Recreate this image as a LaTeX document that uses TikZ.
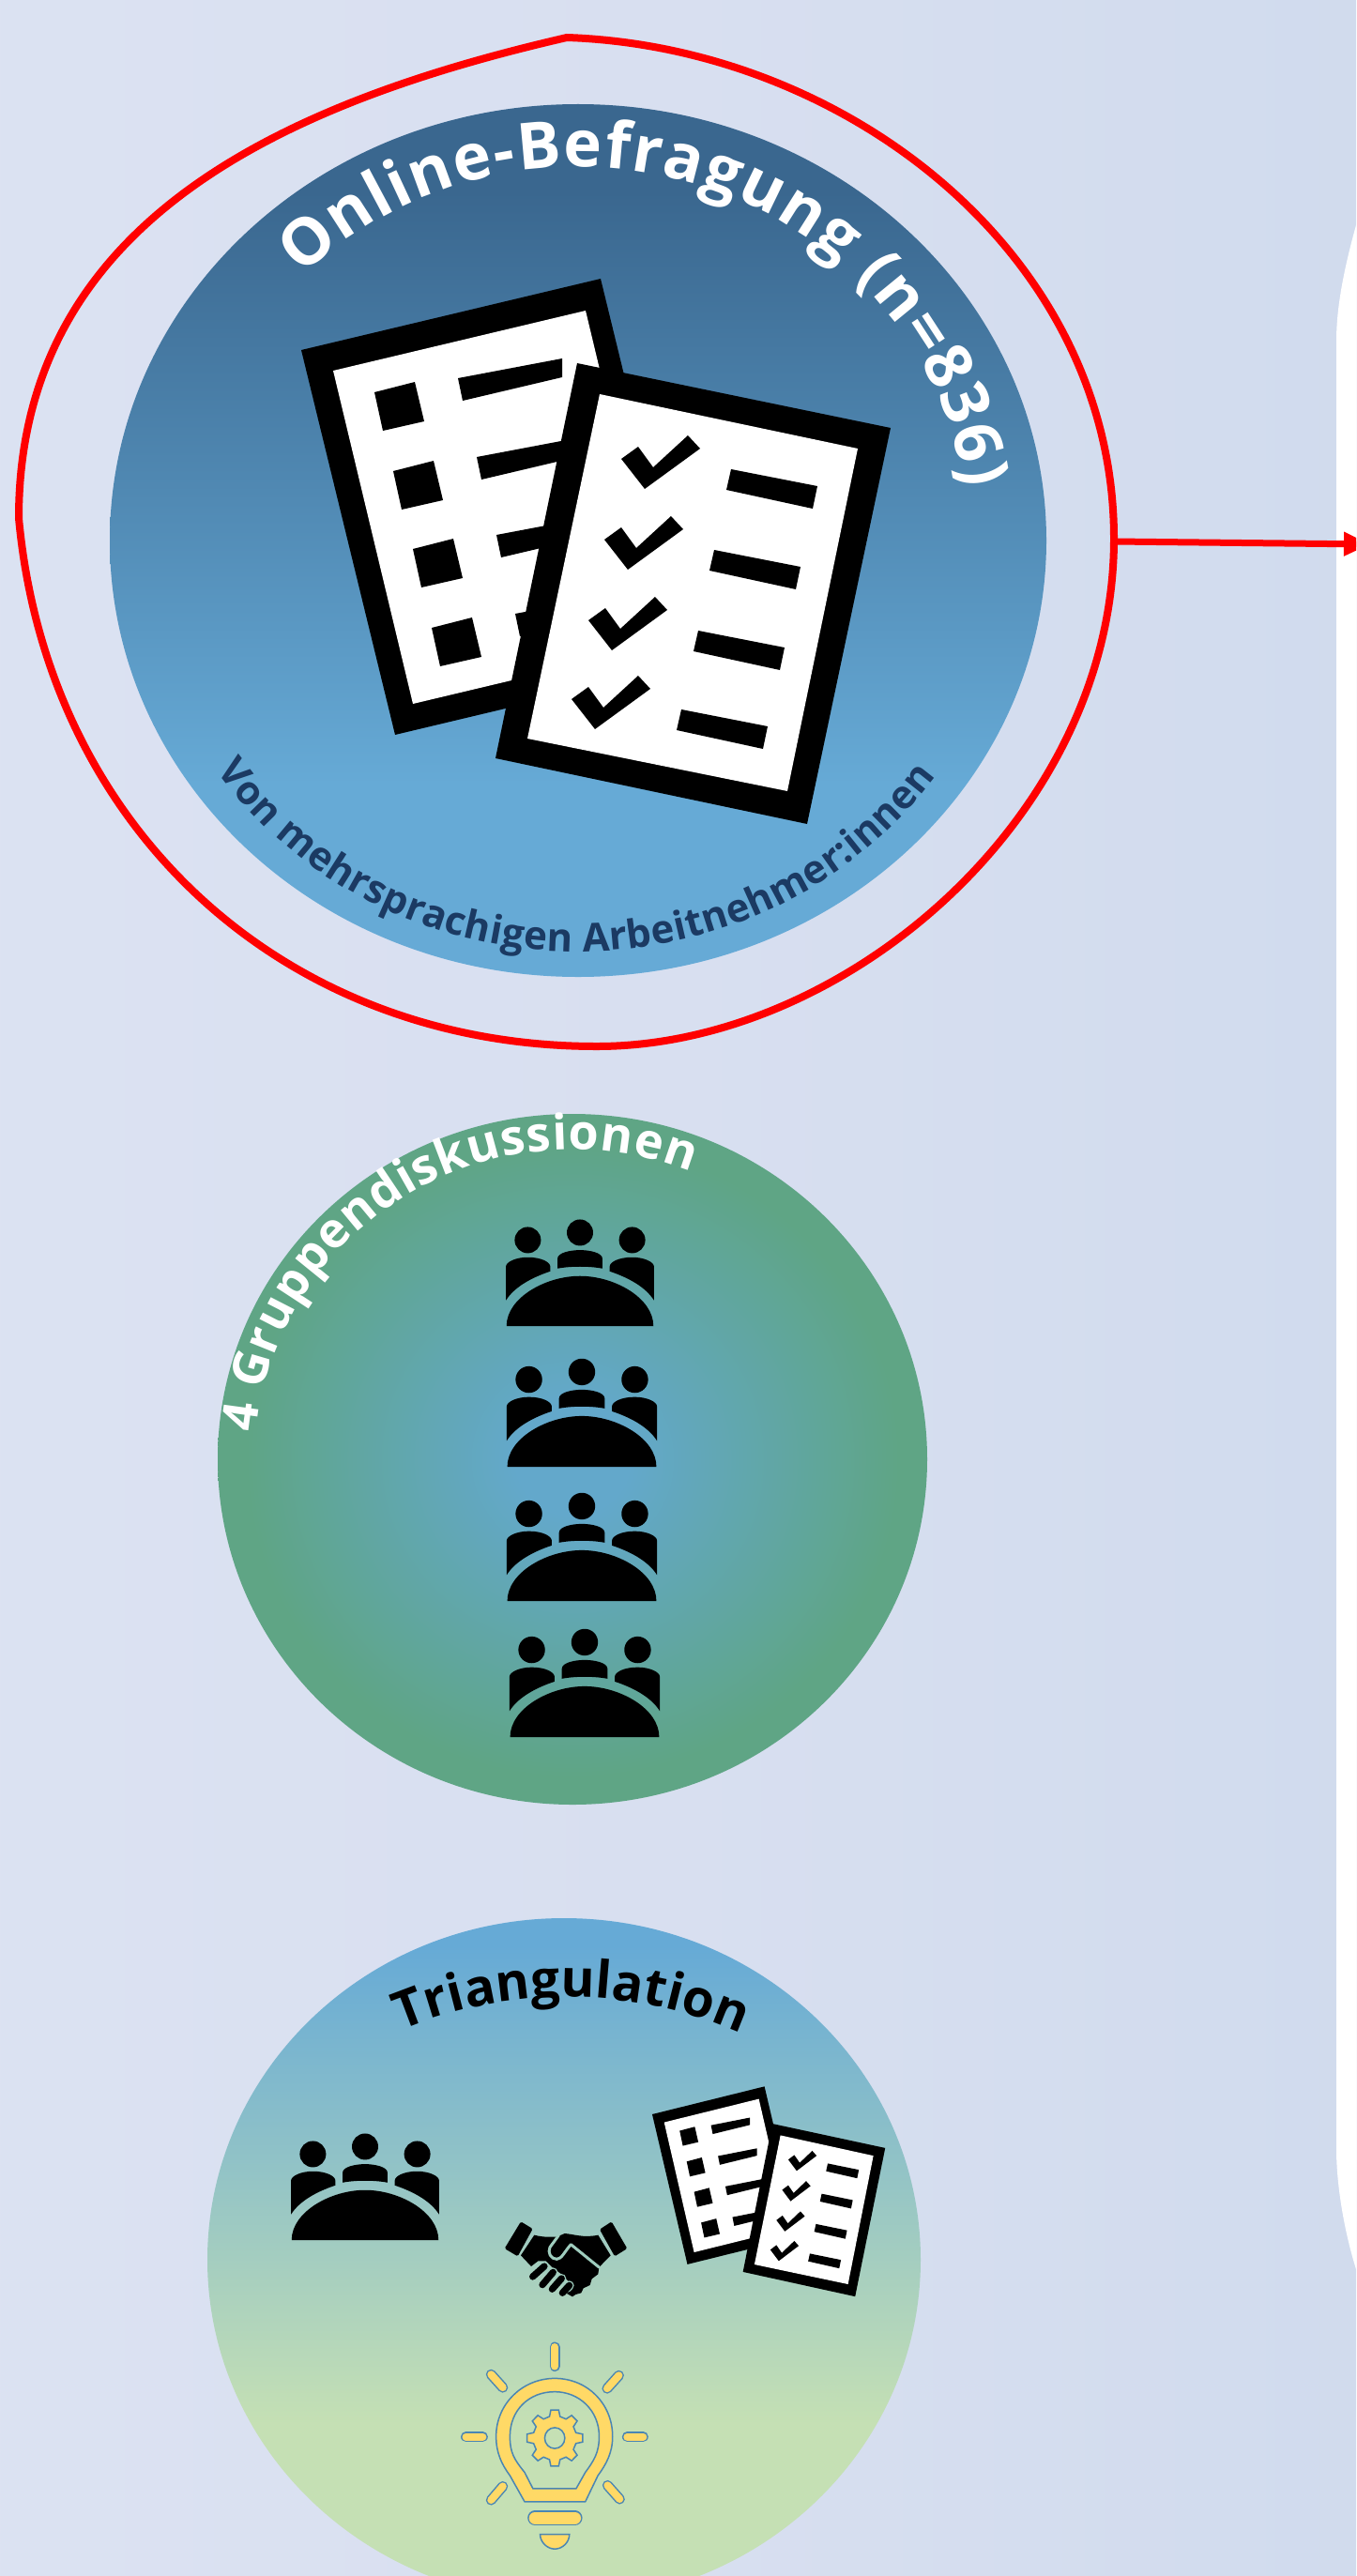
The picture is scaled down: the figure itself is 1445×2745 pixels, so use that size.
\documentclass[tikz,border=0pt]{standalone}
\usepackage{fontspec}
\setmainfont{Open Sans}
\usetikzlibrary{decorations.text,arrows.meta}
\definecolor{bgA}{HTML}{E0E6F5}
\definecolor{bgM}{HTML}{D8DFF0}
\definecolor{bgB}{HTML}{C7D6EA}
\definecolor{bluedark}{HTML}{3A678F}
\definecolor{bluelight}{HTML}{66AAD6}
\definecolor{greenout}{HTML}{5FA585}
\definecolor{blueinner}{HTML}{63A8CB}
\definecolor{greenlight}{HTML}{C5E0B4}
\definecolor{navytext}{HTML}{1B3A63}
\definecolor{bulbyellow}{HTML}{FFD966}
\definecolor{bulbblue}{HTML}{4A86B4}
\definecolor{handgap}{HTML}{9FCDBE}
\pgfdeclareverticalshading{circleone}{100bp}{color(0bp)=(bluelight); color(36bp)=(bluelight); color(70bp)=(bluedark); color(100bp)=(bluedark)}
\pgfdeclareverticalshading{circlethree}{100bp}{color(0bp)=(greenlight); color(38bp)=(greenlight); color(73bp)=(bluelight); color(100bp)=(bluelight)}
\pgfdeclareradialshading{circletwo}{\pgfpoint{0bp}{0bp}}{color(0bp)=(blueinner); color(4bp)=(blueinner); color(23bp)=(greenout); color(50bp)=(greenout)}
\newcommand{\fontA}{\bfseries\fontsize{69}{80}\selectfont\color{white}}
\newcommand{\fontB}{\bfseries\fontsize{42}{52}\selectfont\color{navytext}}
\newcommand{\fontC}{\bfseries\fontsize{52}{60}\selectfont\color{white}}
\newcommand{\fontD}{\bfseries\fontsize{55}{64}\selectfont\color{black}}
\newcommand{\meetingicon}{%
  \fill (-235,0) .. controls (-235,90) and (-110,160) .. (0,160) .. controls (110,160) and (235,90) .. (235,0) -- cycle;
  \fill (-167,275) circle (42);
  \fill (0,299) circle (42);
  \fill (167,275) circle (42);
  \fill (-72,184) -- (-72,215) .. controls (-72,235) and (-30,243) .. (0,243) .. controls (30,243) and (72,235) .. (72,215) -- (72,184) .. controls (30,192) and (-30,192) .. (-72,184) -- cycle;
  \foreach \m in {1,-1}{
    \begin{scope}[xscale=\m]
      \fill (-237,82) -- (-237,190) .. controls (-237,205) and (-205,220) .. (-167,220) .. controls (-125,220) and (-95,205) .. (-95,190) -- (-95,175) .. controls (-155,155) and (-210,125) .. (-237,82) -- cycle;
    \end{scope}}%
}
\newcommand{\docback}{%
  \fill[black] (321,-373) -- (640,-297) -- (740,-707) -- (421,-783) -- cycle;
  \fill[white] (355,-395) -- (624,-331) -- (709,-686) -- (440,-750) -- cycle;
  \foreach \dx/\dy in {0/0,20/-84,41/-167,61/-251}{
    \begin{scope}[shift={(\dx,\dy)}]
      \fill[black] (399,-418) -- (442,-407) -- (452,-449) -- (408,-459) -- cycle;
      \fill[black] (488,-403) -- (599,-382) -- (599,-402) -- (493,-427) -- cycle;
    \end{scope}}%
}
\newcommand{\docfront}{%
  \fill[black] (615,-387) -- (949,-456) -- (860,-878) -- (528,-808) -- cycle;
  \fill[white] (639,-420) -- (914,-478) -- (839,-843) -- (562,-787) -- cycle;
  \foreach \dx/\dy in {0/0,-18/-86,-35/-172,-53/-256}{
    \begin{scope}[shift={(\dx,\dy)}]
      \fill[black] (662,-489) -- (680,-476) -- (696,-498) -- (733,-464) -- (746,-478) -- (687,-521) -- cycle;
      \fill[black] (779,-500) -- (871,-518) -- (866,-542) -- (774,-522) -- cycle;
    \end{scope}}%
}
\tikzset{
  curvetext/.style={decorate,decoration={text along path,text align=fit to path,text={#1}}},
  ringred/.style={draw=red,line width=8pt,line join=miter},
  bulbline/.style={draw=bulbblue,line width=1.5pt,fill=bulbyellow}
}
\begin{document}
\begin{tikzpicture}[x=1pt,y=1pt]
\useasboundingbox (0,0) rectangle (1445,-2745);
\clip (0,0) rectangle (1445,-2745);
% background
\begin{scope}[rotate=-20]
  \shade[left color=bgA,right color=bgB,middle color=bgM] (0,-2700) rectangle (2297,600);
\end{scope}
% white panel
\fill[white] (1445,-240) .. controls (1431,-290) and (1424,-330) .. (1424,-363) -- (1424,-2290) .. controls (1424,-2330) and (1433,-2380) .. (1445,-2418) -- cycle;
% circles
\path[shading=circleone] (616,-576) ellipse [x radius=499,y radius=465];
\path[shading=circletwo] (610,-1555) ellipse [x radius=378,y radius=368];
\path[shading=circlethree] (601,-2408) ellipse [x radius=380,y radius=364];
% red ring
\path[ringred] (604,-40) .. controls (900,-50) and (1187,-270) .. (1187,-574)
  .. controls (1187,-870) and (900,-1115) .. (636,-1115)
  .. controls (300,-1115) and (50,-880) .. (20,-552)
  .. controls (20,-237) and (300,-110) .. (604,-40) -- cycle;
\coordinate (ringright) at (1187,-577);
\coordinate (arrowend) at (1460,-580);
\draw[red,line width=7pt,-{Triangle[length=28pt,width=24pt]}] (ringright) -- (arrowend);
% labels
\path[curvetext={|\fontA|Online-Befragung (n=836)}] (616,-576) ++(135:416 and 398) arc[start angle=135,end angle=8,x radius=416,y radius=398];
\path[curvetext={|\fontB|Von mehrsprachigen Arbeitnehmer:innen}] (616,-576) ++(214:465 and 438) arc[start angle=214,end angle=325,x radius=465,y radius=438];
\path[curvetext={|\fontC|4 Gruppendiskussionen}] (610,-1555) ++(175:338 and 330) arc[start angle=175,end angle=68,x radius=338,y radius=330];
\path[curvetext={|\fontD|Triangulation}] (604,-2584) ++(112.7:456) arc[start angle=112.7,end angle=66,radius=456];
% documents, large
\docback
\docfront
% meeting icons
\begin{scope}[shift={(618,-1413)},scale=0.333] \meetingicon \end{scope}
\begin{scope}[shift={(620,-1563)},scale=0.338] \meetingicon \end{scope}
\begin{scope}[shift={(620,-1706)},scale=0.338] \meetingicon \end{scope}
\begin{scope}[shift={(623,-1851)},scale=0.338] \meetingicon \end{scope}
\begin{scope}[shift={(389,-2387)},scale=0.333] \meetingicon \end{scope}
% documents, small
\begin{scope}[cm={0.375,0,0,0.39,(574.6,-2107.5)}] \docback \end{scope}
\begin{scope}[cm={0.36,0,0,0.375,(601.6,-2117.9)}] \docfront \end{scope}
% handshake
\begin{scope}[cm={0.3333,0,0,-0.3333,(530,-2360)}]
  \fill[rounded corners=1.5pt] (75,22) -- (113,45) -- (65,133) -- (23,108) -- cycle;
  \fill[rounded corners=1.5pt] (365,22) -- (415,108) -- (375,133) -- (327,47) -- cycle;
  \fill (118,65) .. controls (145,72) and (170,72) .. (192,70) -- (215,60) .. controls (245,62) and (275,75) .. (322,65) -- (362,130) -- (325,168) -- (322,190) -- (302,205) -- (296,225) -- (275,235) -- (268,250) -- (250,255) -- (240,262) -- (222,252) -- (240,225) -- (205,190) -- (175,168) -- (155,148) -- (130,148) -- (108,165) -- (75,130) -- cycle;
  \draw[handgap,line width=3pt,line cap=round,line join=round] (196,66) -- (168,104) .. controls (160,120) and (170,142) .. (190,142) .. controls (205,142) and (215,118) .. (235,95) -- (325,168);
  \foreach \ax/\ay/\bx/\by in {150/165/113/198,178/184/144/224,205/204/175/238,230/226/208/250}{
    \draw[handgap,line width=10pt,line cap=round] (\ax,\ay) -- (\ax-8,\ay+8);
    \draw[black,line width=7.2pt,line cap=round] (\ax,\ay) -- (\bx,\by);
  }
\end{scope}
% bulb
\begin{scope}[cm={0.4464,0,0,-0.3476,(280,-2200)}]
  \foreach \ax/\ay/\bx/\by in {697/866/697/925,545/950/573/990,850/953/822/993,485/1141/525/1141,870/1141/908/1141,573/1293/545/1335,823/1290/852/1332}{
    \draw[bulbblue,line width=11pt,line cap=round] (\ax,\ay) -- (\bx,\by);
    \draw[bulbyellow,line width=8pt,line cap=round] (\ax,\ay) -- (\bx,\by);
  }
  \path[bulbline,even odd rule] (625,1340) -- (590,1260) .. controls (570,1225) and (557,1190) .. (557,1140) .. controls (557,1040) and (620,962) .. (697,962) .. controls (775,962) and (835,1040) .. (835,1140) .. controls (835,1190) and (820,1225) .. (800,1260) -- (770,1340) -- cycle
    (645,1300) -- (625,1250) .. controls (600,1210) and (590,1190) .. (590,1140) .. controls (590,1060) and (635,1003) .. (697,1003) .. controls (755,1003) and (803,1060) .. (803,1140) .. controls (803,1190) and (790,1215) .. (770,1250) -- (748,1300) -- cycle;
  \begin{scope}[shift={(697,1145)}]
    \path[bulbline,even odd rule] (76:52 and 68) \foreach \a in {90,135,...,405}{ -- (\a-8:67 and 87) -- (\a+8:67 and 87) -- (\a+14:52 and 68) -- (\a+31:52 and 68)} -- cycle (0,0) ellipse [x radius=24,y radius=32];
  \end{scope}
  \draw[bulbblue,line width=16pt,line cap=round] (650,1390) -- (745,1390);
  \draw[bulbyellow,line width=13pt,line cap=round] (650,1390) -- (745,1390);
  \path[bulbline] (662,1440) -- (732,1440) .. controls (732,1465) and (715,1485) .. (697,1485) .. controls (680,1485) and (662,1465) .. (662,1440) -- cycle;
\end{scope}
\end{tikzpicture}
\end{document}
